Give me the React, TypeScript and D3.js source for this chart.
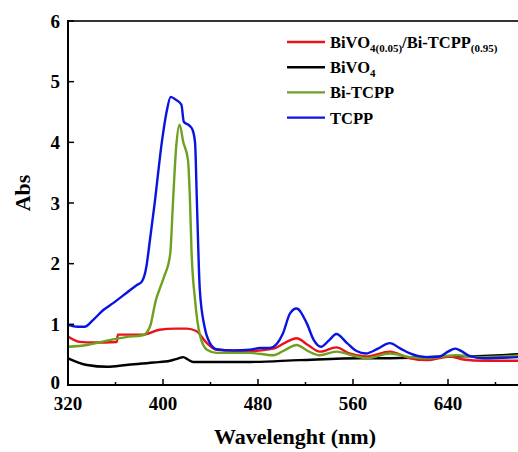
import * as d3 from "d3";

// wavelengths (nm) and absorbance
const tcppWl = [320, 328, 334, 341, 350, 358, 370, 378, 382, 386, 389, 393, 399, 403, 406.5, 411, 415.5, 417.5, 422, 425, 427, 428.5, 431, 435, 439.5, 445, 459, 473, 482, 490, 501, 507, 512.5, 521, 527, 533, 540, 546, 555, 563, 571, 581, 591, 600, 608, 622, 633, 640, 646, 652, 658, 670, 700];
const tcppAbs = [0.99, 0.96, 0.96, 1.07, 1.24, 1.35, 1.53, 1.65, 1.7, 1.95, 2.39, 3.0, 4.0, 4.5, 4.75, 4.7, 4.62, 4.34, 4.28, 4.2, 3.99, 3.05, 1.57, 0.96, 0.69, 0.59, 0.57, 0.58, 0.61, 0.61, 0.85, 1.18, 1.26, 1.02, 0.74, 0.63, 0.74, 0.84, 0.69, 0.56, 0.52, 0.6, 0.69, 0.6, 0.52, 0.46, 0.47, 0.55, 0.6, 0.55, 0.48, 0.44, 0.46];

const biTcppWl = [320, 336, 355, 369, 383, 389, 394, 397.5, 401, 406, 408.5, 411, 414, 417, 421, 422.7, 424, 427, 431, 437, 445, 473, 493, 503, 512.5, 522, 532, 546, 563, 572, 591, 608, 622, 646, 670, 700];
const biTcppAbs = [0.63, 0.66, 0.74, 0.79, 0.82, 0.96, 1.4, 1.6, 1.79, 2.15, 3.05, 3.9, 4.29, 4.01, 3.71, 3.05, 2.22, 1.4, 0.83, 0.58, 0.53, 0.53, 0.49, 0.58, 0.66, 0.56, 0.49, 0.55, 0.47, 0.44, 0.52, 0.46, 0.44, 0.49, 0.46, 0.49];

const compWl = [320, 330, 341, 361, 362, 383, 397, 410, 420, 428, 437, 445, 473, 493, 503, 512.5, 522, 532, 546, 557, 571, 591, 608, 622, 642, 653, 670, 700];
const compAbs = [0.8, 0.71, 0.7, 0.71, 0.83, 0.83, 0.91, 0.93, 0.93, 0.89, 0.69, 0.58, 0.56, 0.6, 0.7, 0.77, 0.66, 0.55, 0.62, 0.52, 0.47, 0.55, 0.44, 0.41, 0.47, 0.42, 0.4, 0.4];

const bivo4Wl = [320, 336, 353, 369, 392, 406, 413, 417, 421, 425.5, 448, 473, 515, 566, 585, 642, 670, 700];
const bivo4Abs = [0.44, 0.33, 0.3, 0.33, 0.37, 0.4, 0.44, 0.46, 0.42, 0.38, 0.38, 0.38, 0.41, 0.44, 0.44, 0.47, 0.48, 0.51];

const xTicks = [320, 400, 480, 560, 640];
const xMinor = [360, 440, 520, 600, 680];
const yTicks = [0, 1, 2, 3, 4, 5, 6];

const series = [
  { key: "bivo4", wl: bivo4Wl, abs: bivo4Abs, color: "#000000" },
  { key: "comp", wl: compWl, abs: compAbs, color: "#e8141b" },
  { key: "bitcpp", wl: biTcppWl, abs: biTcppAbs, color: "#6fa020" },
  { key: "tcpp", wl: tcppWl, abs: tcppAbs, color: "#0a14e0" },
];

const legendColors = ["#e8141b", "#000000", "#6fa020", "#0a14e0"];

const W = 518;
const H = 452;
const margin = { top: 21, left: 68, bottom: 67 };
const font = "'Liberation Serif', 'Times New Roman', serif";

export default function App() {
  const x = d3.scaleLinear().domain([320, 700]).range([margin.left, margin.left + 380 * 1.1875]);
  const y = d3.scaleLinear().domain([0, 6]).range([H - margin.bottom, margin.top]);

  const line = d3
    .line<[number, number]>()
    .x((d) => x(d[0]))
    .y((d) => y(d[1]))
    .curve(d3.curveMonotoneX);

  const x0 = margin.left;
  const yb = y(0);

  return (
    <svg
      width={W}
      height={H}
      style={{ position: "absolute", left: 0, top: 0, background: "#fff" }}
      fontFamily={font}
      fontWeight="bold"
    >
      <g>
        {series.map((s) => (
          <path
            key={s.key}
            d={line(s.wl.map((w, i) => [w, s.abs[i]]))!}
            fill="none"
            stroke={s.color}
            strokeWidth={2.4}
            strokeLinejoin="round"
          />
        ))}
      </g>

      {/* frame */}
      <line x1={x0} x2={W} y1={y(6)} y2={y(6)} stroke="#333" strokeWidth={2} />
      <line x1={x0} x2={W} y1={yb} y2={yb} stroke="#000" strokeWidth={2} />
      <line x1={x0} x2={x0} y1={y(6) - 1} y2={yb + 1} stroke="#000" strokeWidth={2} />

      {/* x ticks */}
      {xTicks.map((t) => (
        <g key={t}>
          <line x1={x(t)} x2={x(t)} y1={yb} y2={yb - 6} stroke="#000" strokeWidth={1.5} />
          <text x={x(t)} y={410} textAnchor="middle" fontSize={19}>
            {t}
          </text>
        </g>
      ))}
      {xMinor.map((t) => (
        <line key={t} x1={x(t)} x2={x(t)} y1={yb} y2={yb - 3} stroke="#000" strokeWidth={1.5} />
      ))}

      {/* y ticks */}
      {yTicks.map((t) => (
        <g key={t}>
          <line x1={x0} x2={x0 + 6} y1={y(t)} y2={y(t)} stroke="#000" strokeWidth={1.5} />
          <text x={60} y={y(t) - (t === 0 ? 3 : 0)} dy="0.35em" textAnchor="end" fontSize={19}>
            {t}
          </text>
        </g>
      ))}

      <text x={295} y={444} textAnchor="middle" fontSize={22}>
        Wavelenght (nm)
      </text>
      <text transform="translate(30,193) rotate(-90)" textAnchor="middle" fontSize={22}>
        Abs
      </text>

      {/* legend */}
      {legendColors.map((c, i) => {
        const ly = 42 + i * 25.2;
        return (
          <g key={i}>
            <line x1={287} x2={325} y1={ly} y2={ly} stroke={c} strokeWidth={2.4} />
            <text x={330} y={ly + 6} fontSize={16.5}>
              {i === 0 && (
                <>
                  BiVO<tspan fontSize={11} dy={4}>4(0.05)</tspan>
                  <tspan dy={-4}>/Bi-TCPP</tspan>
                  <tspan fontSize={11} dy={4}>(0.95)</tspan>
                </>
              )}
              {i === 1 && (
                <>
                  BiVO<tspan fontSize={11} dy={4}>4</tspan>
                </>
              )}
              {i === 2 && "Bi-TCPP"}
              {i === 3 && "TCPP"}
            </text>
          </g>
        );
      })}
    </svg>
  );
}
